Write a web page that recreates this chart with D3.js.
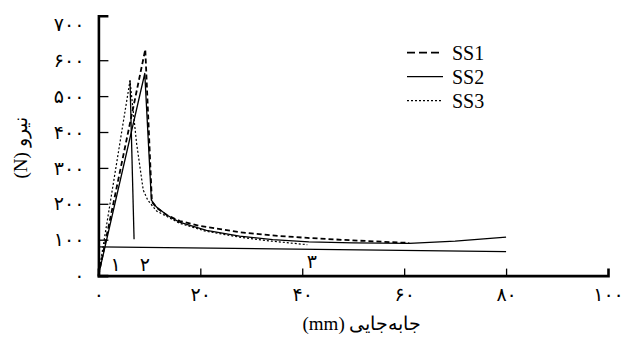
<!DOCTYPE html>
<html>
<head>
<meta charset="utf-8">
<script src="https://cdn.jsdelivr.net/npm/d3@7"></script>
<style>
	body { margin: 0; background: #fff; }
	.serif { font-family: "Liberation Serif", "DejaVu Serif", serif; }
</style>
</head>
<body>
<div id="chart"></div>
<script>
// displacement (mm) / force (N)
const ss1Displacement = [0, 9.2, 10.5, 11.5, 13.5, 16, 20, 27.7, 34, 41, 50, 61];
const ss1Force = [0, 630, 205, 188, 168, 152, 138, 121, 112, 105, 98, 91];

const ss2Displacement = [0, 9.1, 10.4, 11.4, 13.5, 15.9, 21.2, 27.7, 34.2, 41.3, 50, 61, 70, 80];
const ss2Force = [0, 563, 210, 191, 168, 149, 126, 110, 100, 94, 91, 90, 96, 107];

const ss3Displacement = [0, 6.2, 7.5, 8.8, 9.7, 11.4, 15.9, 21, 27.7, 34, 41];
const ss3Force = [0, 543, 368, 238, 210, 180, 146, 124, 107, 96, 86];

// extra solid reference lines drawn on the figure
const dropLineDisplacement = [6.2, 7.0];
const dropLineForce = [543, 101];
const baseLineDisplacement = [0, 80];
const baseLineForce = [80, 67];

// numbered markers
const markerLabels = ["۱", "۲", "۳"];
const markerDisplacement = [3.4, 9.1, 41.9];
const markerForce = [32, 32, 40];

const xTickValues = [0, 20, 40, 60, 80, 100];
const xTickLabels = ["۰", "۲۰", "۴۰", "۶۰", "۸۰", "۱۰۰"];
const yTickValues = [0, 100, 200, 300, 400, 500, 600, 700];
const yTickLabels = ["۰", "۱۰۰", "۲۰۰", "۳۰۰", "۴۰۰", "۵۰۰", "۶۰۰", "۷۰۰"];

const seriesNames = ["SS1", "SS2", "SS3"];

const digitFont = "DejaVu Sans, sans-serif";

function zipPoints(xs, ys) {
	return xs.map(function (x, i) { return { x: x, y: ys[i] }; });
}

const seriesList = [
	{ name: seriesNames[0], points: zipPoints(ss1Displacement, ss1Force), dash: "5,3", legendDash: "8,4", width: 1.8 },
	{ name: seriesNames[1], points: zipPoints(ss2Displacement, ss2Force), dash: null, legendDash: null, width: 1.3 },
	{ name: seriesNames[2], points: zipPoints(ss3Displacement, ss3Force), dash: "2,2", legendDash: "2,2", width: 1.2 }
];

const chartWidth = 636;
const chartHeight = 338;

const $svg = d3.select("#chart")
	.append("svg")
	.attr("width", chartWidth)
	.attr("height", chartHeight);

// scales, y domain runs a bit past 700 to the top cap of the axis
const xScale = d3.scaleLinear().domain([0, 100]).range([98.4, 608]);
const yScale = d3.scaleLinear().domain([0, 724]).range([275.6, 15.7]);

// x axis with ticks pointing up (inside)
const $xAxis = $svg.append("g")
	.attr("transform", "translate(0," + yScale(0) + ")")
	.call(d3.axisTop(xScale).tickValues([20, 40, 60, 80]).tickSize(7).tickSizeOuter(7).tickFormat(""));

// x tick labels
$svg.append("g")
	.attr("transform", "translate(0," + yScale(0) + ")")
	.call(d3.axisBottom(xScale).tickValues(xTickValues).tickSize(0).tickPadding(12)
		.tickFormat(function (d, i) { return xTickLabels[i]; }))
	.call(function (g) { g.select(".domain").remove(); })
	.attr("font-family", digitFont)
	.attr("font-size", 19);

// y axis with ticks pointing right (inside)
const $yAxis = $svg.append("g")
	.attr("transform", "translate(" + xScale(0) + ",0)")
	.call(d3.axisRight(yScale).tickValues([100, 200, 300, 400, 500, 600]).tickSize(10).tickSizeOuter(10).tickFormat(""));

// y tick labels
$svg.append("g")
	.attr("transform", "translate(" + xScale(0) + ",0)")
	.call(d3.axisLeft(yScale).tickValues(yTickValues).tickSize(0).tickPadding(14)
		.tickFormat(function (d, i) { return yTickLabels[i]; }))
	.call(function (g) { g.select(".domain").remove(); })
	.attr("font-family", digitFont)
	.attr("font-size", 19);

[$xAxis, $yAxis].forEach(function ($a) {
	$a.select(".domain").attr("stroke-width", 2.6).attr("stroke", "#000");
	$a.selectAll(".tick line").attr("stroke-width", 1.3).attr("stroke", "#000");
});

const lineGenerator = d3.line()
	.x(function (d) { return xScale(d.x); })
	.y(function (d) { return yScale(d.y); });

// reference solid lines
[zipPoints(dropLineDisplacement, dropLineForce), zipPoints(baseLineDisplacement, baseLineForce)]
	.forEach(function (pts) {
		$svg.append("path")
			.datum(pts)
			.attr("fill", "none")
			.attr("stroke", "#000")
			.attr("stroke-width", 1.3)
			.attr("d", lineGenerator);
	});

// series
seriesList.forEach(function (s) {
	$svg.append("path")
		.datum(s.points)
		.attr("fill", "none")
		.attr("stroke", "#000")
		.attr("stroke-width", s.width)
		.attr("stroke-dasharray", s.dash)
		.attr("stroke-linejoin", "round")
		.attr("d", lineGenerator);
});

// numbered markers
$svg.selectAll(".marker")
	.data(markerLabels)
	.enter()
	.append("text")
	.attr("class", "marker")
	.attr("font-family", digitFont)
	.attr("font-size", 19)
	.attr("x", function (d, i) { return xScale(markerDisplacement[i]); })
	.attr("y", function (d, i) { return yScale(markerForce[i]); })
	.attr("dy", "0.35em")
	.attr("text-anchor", "middle")
	.text(function (d) { return d; });

// legend
const $legend = $svg.append("g").attr("transform", "translate(407,52.7)");
seriesList.forEach(function (s, i) {
	const $row = $legend.append("g").attr("transform", "translate(0," + i * 24 + ")");
	$row.append("line")
		.attr("x1", 0).attr("x2", 36)
		.attr("stroke", "#000")
		.attr("stroke-width", s.width)
		.attr("stroke-dasharray", s.legendDash);
	$row.append("text")
		.attr("class", "serif")
		.attr("font-size", 20)
		.attr("x", 45)
		.attr("dy", "0.35em")
		.text(s.name);
});

// axis titles
$svg.append("text")
	.attr("class", "serif")
	.attr("font-size", 19)
	.attr("x", 362)
	.attr("y", 330)
	.attr("text-anchor", "middle")
	.text("(mm) جابه‌جایی");

$svg.append("text")
	.attr("class", "serif")
	.attr("font-size", 19)
	.attr("transform", "translate(27,148) rotate(-90)")
	.attr("text-anchor", "middle")
	.text("(N) نیرو");
</script>
</body>
</html>
